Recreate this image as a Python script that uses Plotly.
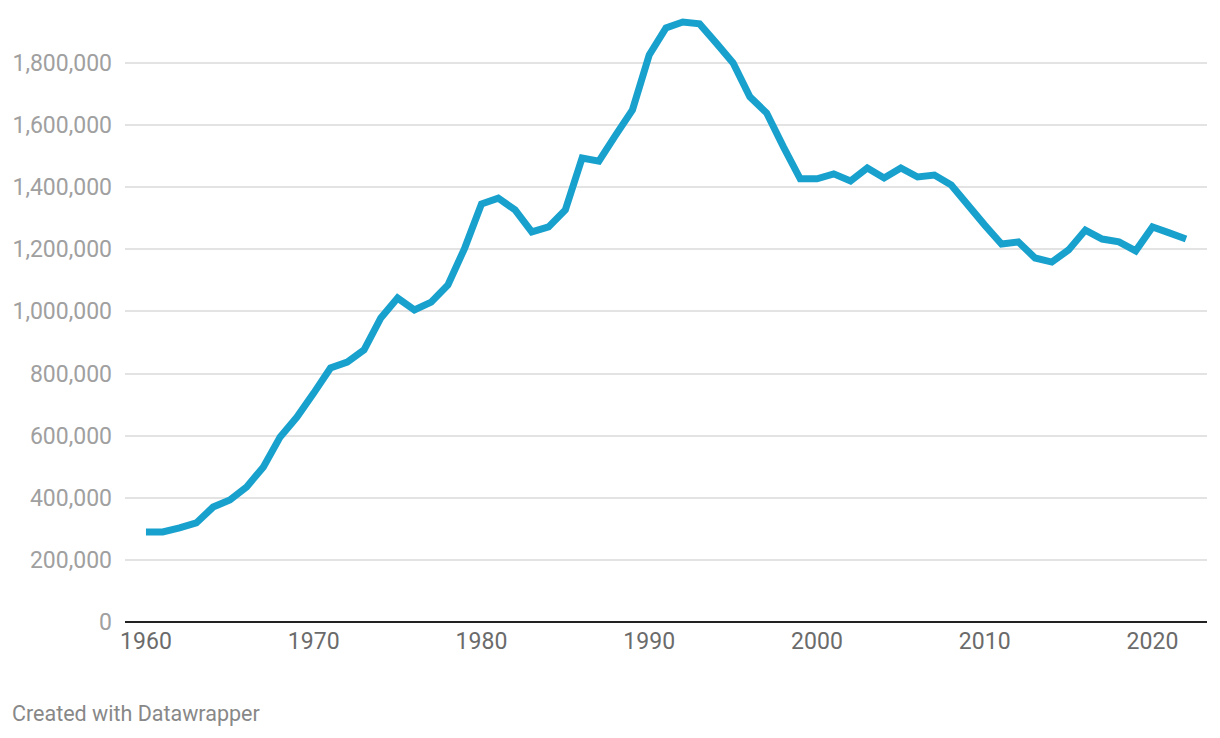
import plotly.graph_objects as go

years = list(range(1960, 2023))
values = [
    290000, 290000, 303000, 319000, 370000, 393000, 435000, 499000, 596000, 660000,
    737000, 818000, 837000, 876000, 979000, 1043000, 1005000, 1030000, 1085000, 1204000,
    1346000, 1365000, 1327000, 1256000, 1272000, 1327000, 1494000, 1484000, 1568000, 1649000,
    1826000, 1913000, 1932000, 1926000, 1864000, 1800000, 1691000, 1639000, 1530000, 1427000,
    1427000, 1443000, 1420000, 1462000, 1430000, 1462000, 1433000, 1439000, 1407000, 1340000,
    1278000, 1217000, 1224000, 1172000, 1159000, 1198000, 1262000, 1233000, 1224000, 1195000,
    1272000, 1253000, 1233000,
]
x_ticks = [1960, 1970, 1980, 1990, 2000, 2010, 2020]
y_ticks = [0, 200000, 400000, 600000, 800000, 1000000, 1200000, 1400000, 1600000, 1800000]
y_ticklabels = ["0", "200,000", "400,000", "600,000", "800,000", "1,000,000",
                "1,200,000", "1,400,000", "1,600,000", "1,800,000"]

fig = go.Figure()
fig.add_trace(go.Scatter(
    x=years, y=values, mode="lines",
    line=dict(color="#18a1cd", width=7),
    hoverinfo="x+y", showlegend=False,
))

fig.update_layout(
    width=1220, height=738,
    margin=dict(l=125, r=13, t=10, b=116),
    paper_bgcolor="white", plot_bgcolor="white",
    font=dict(family="Roboto", size=23, color="#666666"),
    xaxis=dict(
        range=[1958.75, 2023.25],
        tickmode="array", tickvals=x_ticks, ticktext=[str(v) for v in x_ticks],
        showgrid=False, zeroline=False, showline=False, ticks="",
        tickfont=dict(family="Roboto", size=23, color="#6b6b6b"),
        ticklabelstandoff=3,
    ),
    yaxis=dict(
        range=[0, 1970600],
        tickmode="array", tickvals=y_ticks, ticktext=y_ticklabels,
        showgrid=True, gridcolor="#e3e3e3", gridwidth=1.5,
        zeroline=True, zerolinecolor="#222222", zerolinewidth=2,
        showline=False, ticks="",
        tickfont=dict(family="Roboto", size=23, color="#a0a0a0"),
        ticklabelstandoff=12,
    ),
    annotations=[dict(
        text="Created with Datawrapper", xref="paper", yref="paper",
        x=-0.1063, y=-0.150, xanchor="left", yanchor="middle",
        showarrow=False, font=dict(family="Roboto", size=21.5, color="#888888"),
    )],
)

fig.write_html("out.html")
